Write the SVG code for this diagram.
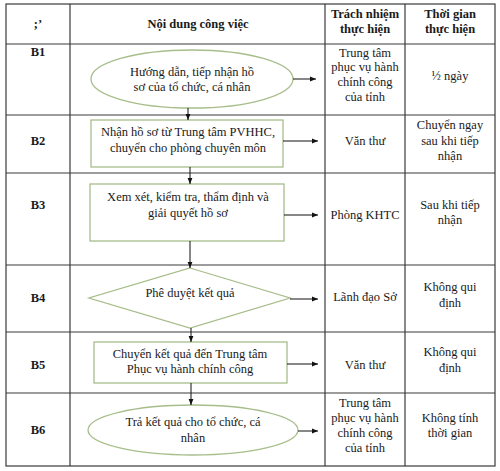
<svg xmlns="http://www.w3.org/2000/svg" width="500" height="471" viewBox="0 0 500 471">
<defs>
<marker id="ah" viewBox="0 0 10 10" refX="10" refY="5" markerWidth="6" markerHeight="6" markerUnits="userSpaceOnUse" orient="auto"><path d="M0,1 L10,5 L0,9 z" fill="#111"/></marker>
<style>
.grid{stroke:#3a3a3a;stroke-width:1.2;fill:none}
.shape{fill:#fff;stroke:#a7bd8a;stroke-width:1.3}
text{font-family:"Liberation Serif","Times New Roman",serif;font-size:12.5px;fill:#1a1a1a;text-anchor:middle}
.b{font-weight:bold}
.con{stroke:#111;stroke-width:1;fill:none;marker-end:url(#ah)}
</style>
</defs>
<rect width="500" height="471" fill="#fff"/>
<g id="table">
<rect class="grid" x="6" y="4" width="489" height="462"/>
<line class="grid" x1="70" y1="4" x2="70" y2="466"/>
<line class="grid" x1="325" y1="4" x2="325" y2="466"/>
<line class="grid" x1="405" y1="4" x2="405" y2="466"/>
<line class="grid" x1="6" y1="44" x2="495" y2="44"/>
<line class="grid" x1="6" y1="115" x2="495" y2="115"/>
<line class="grid" x1="6" y1="173" x2="495" y2="173"/>
<line class="grid" x1="6" y1="265" x2="495" y2="265"/>
<line class="grid" x1="6" y1="332" x2="495" y2="332"/>
<line class="grid" x1="6" y1="393" x2="495" y2="393"/>
<text class="b" x="38" y="28">;’</text>
<text class="b" x="198" y="28">Nội dung công việc</text>
<text class="b" x="365" y="18">Trách nhiệm</text>
<text class="b" x="365" y="33">thực hiện</text>
<text class="b" x="450" y="18">Thời gian</text>
<text class="b" x="450" y="33">thực hiện</text>
<text class="b" x="38" y="56">B1</text>
<text class="b" x="38" y="145">B2</text>
<text class="b" x="38" y="209">B3</text>
<text class="b" x="38" y="302">B4</text>
<text class="b" x="38" y="369">B5</text>
<text class="b" x="38" y="434">B6</text>
</g>
<g id="resp">
<text x="365" y="57">Trung tâm</text>
<text x="365" y="71">phục vụ hành</text>
<text x="365" y="86">chính công</text>
<text x="365" y="101">của tỉnh</text>
<text x="365" y="145">Văn thư</text>
<text x="365" y="219">Phòng KHTC</text>
<text x="365" y="301">Lãnh đạo Sở</text>
<text x="365" y="369">Văn thư</text>
<text x="365" y="407">Trung tâm</text>
<text x="365" y="422">phục vụ hành</text>
<text x="365" y="437">chính công</text>
<text x="365" y="452">của tỉnh</text>
</g>
<g id="time">
<text x="450" y="80">½ ngày</text>
<text x="450" y="129">Chuyển ngay</text>
<text x="450" y="145">sau khi tiếp</text>
<text x="450" y="160">nhận</text>
<text x="450" y="209">Sau khi tiếp</text>
<text x="450" y="224">nhận</text>
<text x="450" y="291">Không qui</text>
<text x="450" y="307">định</text>
<text x="450" y="356">Không qui</text>
<text x="450" y="372">định</text>
<text x="450" y="422">Không tính</text>
<text x="450" y="437">thời gian</text>
</g>
<g id="b1">
<ellipse class="shape" cx="192" cy="79" rx="101" ry="29"/>
<text x="192" y="76">Hướng dẫn, tiếp nhận hồ</text>
<text x="192" y="91">sơ của tổ chức, cá nhân</text>
</g>
<g id="b2">
<rect class="shape" x="91" y="120" width="192" height="47"/>
<text x="188" y="136">Nhận hồ sơ từ Trung tâm PVHHC,</text>
<text x="188" y="152">chuyển cho phòng chuyên môn</text>
</g>
<g id="b3">
<rect class="shape" x="90" y="184" width="194" height="57"/>
<text x="188" y="201">Xem xét, kiểm tra, thẩm định và</text>
<text x="188" y="217">giải quyết hồ sơ</text>
</g>
<g id="b4">
<polygon class="shape" points="190,268 290,298 190,328 89,298"/>
<text x="190" y="297">Phê duyệt kết quả</text>
</g>
<g id="b5">
<rect class="shape" x="94" y="342" width="193" height="41"/>
<text x="190" y="358">Chuyển kết quả đến Trung tâm</text>
<text x="190" y="373">Phục vụ hành chính công</text>
</g>
<g id="b6">
<ellipse class="shape" cx="193" cy="430" rx="105" ry="25"/>
<text x="193" y="426">Trả kết quả cho tổ chức, cá</text>
<text x="193" y="442">nhân</text>
</g>
<g id="connectors">
<path class="con" d="M188,108 V120"/>
<path class="con" d="M190,167 V184"/>
<path class="con" d="M190,241 V268"/>
<path class="con" d="M191,328 V342"/>
<path class="con" d="M191,383 V405"/>
<path class="con" d="M293,79 H316"/>
<path class="con" d="M283,141 H318"/>
<path class="con" d="M284,215 H318"/>
<path class="con" d="M290,299 H318"/>
<path class="con" d="M287,364 H318"/>
<path class="con" d="M298,431 H318"/>
</g>
</svg>
